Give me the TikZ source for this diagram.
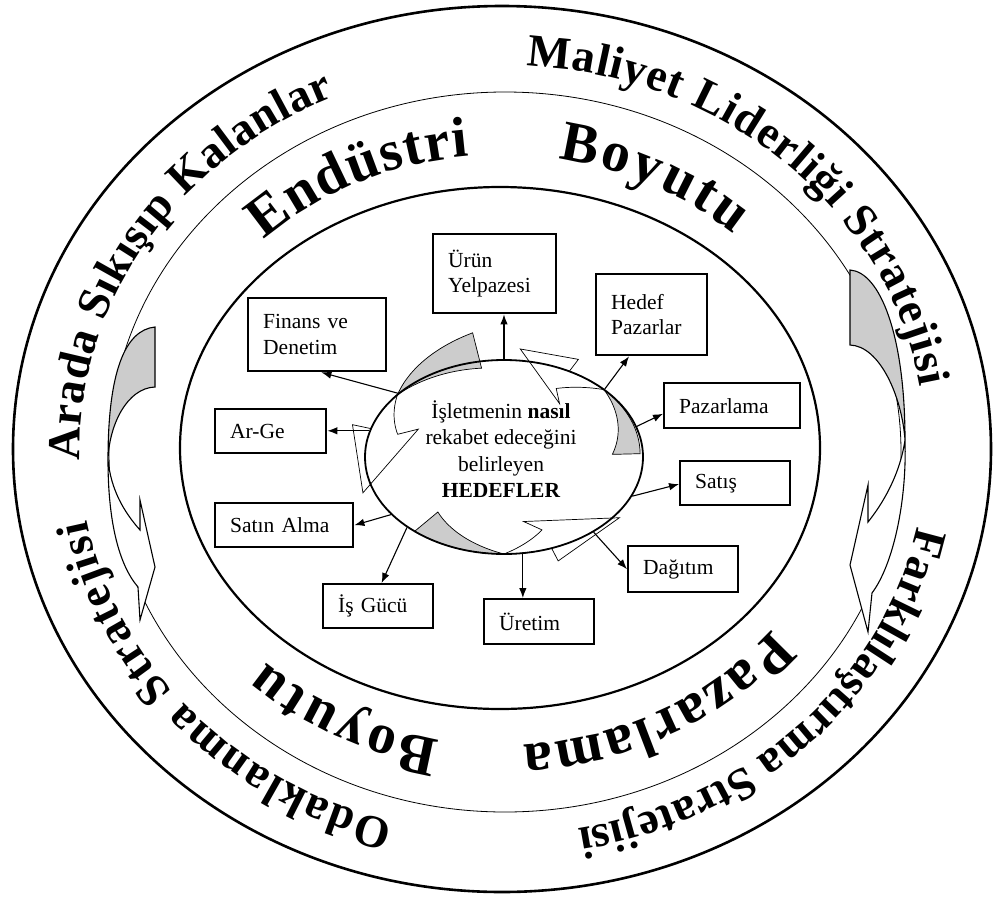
\documentclass[tikz,border=0pt]{standalone}
\usepackage{fontspec}
\setmainfont{Liberation Serif}
\usetikzlibrary{arrows.meta,calc,decorations.text,shapes.geometric}

\newcommand\boxfont{\fontsize{21.5}{25.5}\selectfont}
\newcommand\goalfont{\fontsize{21.5}{26.3}\selectfont}
\newcommand\outerringfont{\fontsize{46}{50}\selectfont\bfseries}
\newcommand\innerringfont{\fontsize{57}{60}\selectfont\bfseries}

% curved cycle arrow around the central oval (centre 504,457; radii 139 x 97)
% #1 cut angle, #2 twist angle, #3 head base angle, #4 tip angle,
% #5 outer scale at cut, #6 inner scale at cut, #7 tip scale
\newcommand\ringarrow[7]{%
  \filldraw[ribbonback]
    plot[domain=#1:#2, samples=24] ({504+139*(1+(#5-1)*(#2-\x)/(#2-#1))*cos(\x)}, {457-97*(1+(#5-1)*(#2-\x)/(#2-#1))*sin(\x)})
    -- plot[domain=#2:#1, samples=24] ({504+139*(1+(#6-1)*(#2-\x)/(#2-#1))*cos(\x)}, {457-97*(1+(#6-1)*(#2-\x)/(#2-#1))*sin(\x)})
    -- cycle;
  \filldraw[ribbonfront]
    plot[domain=#2:#3, samples=16] ({504+139*cos(\x)}, {457-97*sin(\x)})
    -- ({504+139*1.14*cos(#3)}, {457-97*1.14*sin(#3)})
    -- ({504+139*#7*cos(#4)}, {457-97*#7*sin(#4)})
    -- ({504+139*0.68*cos(#3-8)}, {457-97*0.68*sin(#3-8)})
    -- ({504+139*0.80*cos(#3)}, {457-97*0.80*sin(#3)})
    -- plot[domain=#3:#2, samples=16] ({504+139*(1-0.20*(\x-#2)/(#3-#2))*cos(\x)}, {457-97*(1-0.20*(\x-#2)/(#3-#2))*sin(\x)})
    -- cycle;
}

\tikzset{
  box/.style={draw, line width=2.4pt, rectangle, anchor=north west, inner xsep=15pt, inner ysep=0pt, align=left, font=\boxfont},
  link/.style={line width=1.1pt, -{Latex[length=10pt,width=7.5pt]}},
  ribbonback/.style={fill=gray!40, draw=black, line width=0.7pt},
  ribbonfront/.style={fill=white, draw=black, line width=0.7pt},
  sideback/.style={fill=gray!40, draw=black, line width=1.1pt},
  sidefront/.style={fill=white, draw=black, line width=1.1pt},
}

\begin{document}
\begin{tikzpicture}[x=1pt,y=-1pt]
\useasboundingbox (0,0) rectangle (993,897);
\fill[white] (0,0) rectangle (993,897);

% three rings
\draw[line width=2.6pt] (502,449) ellipse[x radius=489, y radius=443];
\draw[line width=0.8pt] (505,452) ellipse[x radius=396, y radius=360];
\draw[line width=2.2pt] (500,448) ellipse[x radius=320, y radius=261];

% side arrows between the strategy ring and the inner ring
\filldraw[sideback] (155,327) .. controls (125,330) and (108,372) .. (108,460)
  .. controls (109,425) and (127,388) .. (155,387) -- cycle;
\filldraw[sidefront] (108,460) .. controls (108,522) and (119,565) .. (138,587)
  -- (140,620) -- (155,567) -- (140,500) -- (140,530)
  .. controls (124,512) and (111,490) .. (108,460) -- cycle;
\filldraw[sideback] (850,270) .. controls (880,272) and (905,335) .. (905,440)
  .. controls (902,397) and (880,346) .. (850,345) -- cycle;
\filldraw[sidefront] (905,440) .. controls (907,502) and (893,565) .. (872,593)
  -- (868,632) -- (850,565) -- (868,485) -- (868,522)
  .. controls (888,497) and (901,468) .. (905,440) -- cycle;

% strategy labels in the outer ring
\path[decorate, decoration={text along path, text align={fit to path},
  text={|\outerringfont|Arada Sıkışıp Kalanlar}}]
  (503,450) ++(-181.5:423 and 385) arc[start angle=-181.5, end angle=-113.5, x radius=423, y radius=385];
\path[decorate, decoration={text along path, text align={fit to path},
  text={|\outerringfont|Maliyet Liderliği Stratejisi}}]
  (503,450) ++(-86.8:423 and 385) arc[start angle=-86.8, end angle=-9.5, x radius=423, y radius=385];
\path[decorate, decoration={text along path, text align={fit to path},
  text={|\outerringfont|Farklılaştırma Stratejisi}}]
  (503,450) ++(11.5:423 and 385) arc[start angle=11.5, end angle=79.8, x radius=423, y radius=385];
\path[decorate, decoration={text along path, text align={fit to path},
  text={|\outerringfont|Odaklanma Stratejisi}}]
  (503,450) ++(105:423 and 385) arc[start angle=105, end angle=169.5, x radius=423, y radius=385];

% dimension labels in the middle ring
\path[decorate, decoration={text along path, text align={fit to path},
  text={|\innerringfont|Endüstri}}]
  (502,450) ++(-134.5:340 and 295) arc[start angle=-134.5, end angle=-95.5, x radius=340, y radius=295];
\path[decorate, decoration={text along path, text align={fit to path},
  text={|\innerringfont|Boyutu}}]
  (502,450) ++(-80.5:340 and 295) arc[start angle=-80.5, end angle=-47, x radius=340, y radius=295];
\path[decorate, decoration={text along path, text align={fit to path},
  text={|\innerringfont|Pazarlama}}]
  (502,450) ++(37.5:340 and 295) arc[start angle=37.5, end angle=86.5, x radius=340, y radius=295];
\path[decorate, decoration={text along path, text align={fit to path},
  text={|\innerringfont|Boyutu}}]
  (502,450) ++(100.5:340 and 295) arc[start angle=100.5, end angle=134, x radius=340, y radius=295];

% cycle arrows around the goals
\ringarrow{100}{140}{163}{200}{1.3}{0.93}{1.08}
\ringarrow{230}{270}{290}{323}{1.0}{0.74}{1.04}
\ringarrow{2}{44}{62}{84}{0.98}{0.78}{1.12}

% central oval and its text
\node[draw, ellipse, line width=1.8pt, minimum width=278pt, minimum height=194pt, inner sep=0pt] (goal) at (504,457) {};
\node[align=center, font=\goalfont, inner sep=0pt] (goaltext) at (501,449)
  {İşletmenin \textbf{nasıl}\\rekabet edeceğini\\belirleyen\\\textbf{HEDEFLER}};

% functional areas
\node[box, minimum width=123pt, minimum height=79pt, text width=93pt] (urun) at (432,233) {Ürün\\Yelpazesi};
\node[box, minimum width=111pt, minimum height=81pt, text width=81pt] (hedef) at (595,273) {Hedef\\Pazarlar};
\node[box, minimum width=136pt, minimum height=45pt, text width=106pt] (pazarlama) at (663,382) {Pazarlama};
\node[box, minimum width=110pt, minimum height=44pt, text width=80pt] (satis) at (679,460) {Satış};
\node[box, minimum width=110pt, minimum height=46pt, text width=80pt] (dagitim) at (627,545) {Dağıtım};
\node[box, minimum width=110pt, minimum height=45pt, text width=80pt] (uretim) at (483,598) {Üretim};
\node[box, minimum width=110pt, minimum height=44pt, text width=80pt] (isgucu) at (322,583) {İş Gücü};
\node[box, minimum width=138pt, minimum height=44pt, text width=108pt] (satin) at (214,502) {Satın Alma};
\node[box, minimum width=111pt, minimum height=44pt, text width=81pt] (arge) at (214,408) {Ar-Ge};
\node[box, minimum width=138pt, minimum height=73pt, text width=108pt] (finans) at (247,297) {Finans ve\\Denetim};

% connectors from the goals to each area
\draw[link] (goal.90) -- (goal.90 |- urun.south);
\draw[link] (goal.34) -- ($(hedef.south west)!0.3!(hedef.south east)$);
\draw[link] (goal.13) -- ($(pazarlama.north west)!0.67!(pazarlama.south west)$);
\draw[link] (goal.-17) -- ($(satis.north west)!0.52!(satis.south west)$);
\draw[link] (goal.-40) -- (dagitim.west);
\draw[link] (goal.-79) -- (goal.-79 |- uretim.north);
\draw[link] (goal.216) -- ($(isgucu.north west)!0.53!(isgucu.north east)$);
\draw[link] (goal.207) -- (satin.east);
\draw[link] (goal.169) -- (goal.169 -| arge.east);
\draw[link] (goal.149) -- ($(finans.south west)!0.53!(finans.south east)$);
\end{tikzpicture}
\end{document}
